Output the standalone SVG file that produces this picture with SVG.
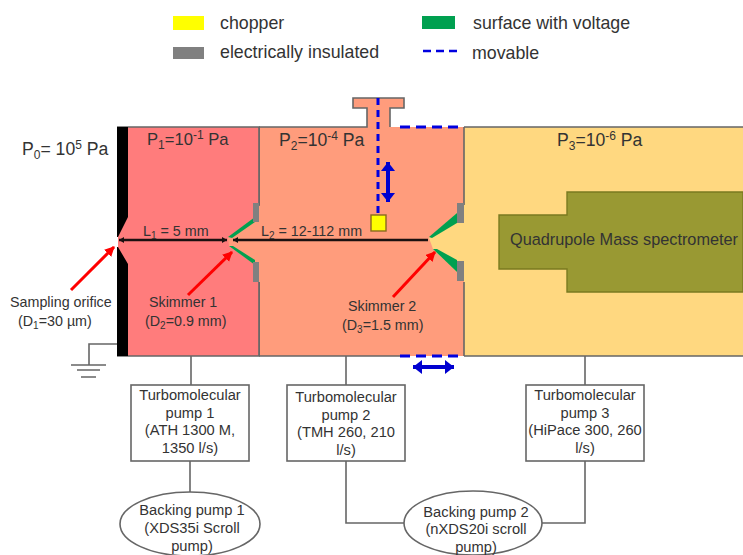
<svg xmlns="http://www.w3.org/2000/svg" width="743" height="555" viewBox="0 0 743 555">
<style>
text{font-family:"Liberation Sans",Arial,sans-serif;fill:#333;font-size:14.3px}
.m{text-anchor:middle;font-size:14.7px}
.lg{font-size:17.8px;fill:#333}
.p{font-size:17.6px}
.p tspan.s{font-size:12px}
.w{fill:none;stroke:#666;stroke-width:1.6}
.box{fill:#fff;stroke:#666;stroke-width:1.6}
.dash{fill:none;stroke:#0000e0;stroke-width:3;stroke-dasharray:10 6}
.gn{fill:#00a050}
.gy{fill:#808080}
.red{stroke:#f00;stroke-width:3;fill:none;marker-end:url(#ra)}
.blu{stroke:#0000d0;stroke-width:4;fill:none;marker-start:url(#ba);marker-end:url(#ba)}
</style>
<defs>
<marker id="ra" markerUnits="userSpaceOnUse" markerWidth="11" markerHeight="11" refX="9" refY="5" orient="auto"><path d="M0 0L10 5L0 10Z" fill="#f00"/></marker>
<marker id="ba" markerUnits="userSpaceOnUse" markerWidth="10" markerHeight="14" refX="9" refY="7" orient="auto-start-reverse"><path d="M0 0L9 7L0 14Z" fill="#0000d0"/></marker>
<marker id="ka" markerUnits="userSpaceOnUse" markerWidth="6" markerHeight="6" refX="5" refY="3" orient="auto-start-reverse"><path d="M0 0L5 3L0 6Z" fill="#1a1010"/></marker>
</defs>
<rect width="743" height="555" fill="#fff"/>
<g id="legend">
<rect x="173" y="16" width="31" height="14" fill="#ffff00"/>
<rect x="173" y="47" width="31" height="12" fill="#808080"/>
<rect x="422" y="16" width="33" height="13" fill="#00a050"/>
<path d="M423 51H457" fill="none" stroke="#0000e0" stroke-width="2.5" stroke-dasharray="8 5"/>
<text x="220" y="29" class="lg">chopper</text>
<text x="220" y="58" class="lg">electrically insulated</text>
<text x="473" y="29" class="lg">surface with voltage</text>
<text x="472" y="59" class="lg">movable</text>
</g>
<g id="chamber3">
<rect x="464" y="127" width="279" height="229" fill="#ffd880"/>
<path d="M464 127H743M464 356H743" class="w"/>
<text x="557" y="146" class="p">P<tspan class="s" dy="4">3</tspan><tspan dy="-4">=10</tspan><tspan class="s" dy="-6">-6</tspan><tspan dy="6"> Pa</tspan></text>
</g>
<g id="chamber2">
<path d="M259 127H367V108H353V98H404V108H390V127H464V356H259Z" fill="#ff9c7c"/>
<path d="M259 127H367V108H353V98H404V108H390V127M259 356H400M464 127V205M464 282V356M259 127V205M259 282V356" class="w"/>
<path d="M429 238L457 213H465V272H457L433 249Z" fill="#ffd880"/>
<text x="279" y="146" class="p">P<tspan class="s" dy="4">2</tspan><tspan dy="-4">=10</tspan><tspan class="s" dy="-6">-4</tspan><tspan dy="6"> Pa</tspan></text>
</g>
<g id="chamber1">
<rect x="118" y="127" width="141" height="229" fill="#ff7c7c"/>
<path d="M228 238L255 217H260V265H255L229 246Z" fill="#ff9c7c"/>
<path d="M117 127H259V206M259 282V356H117" class="w"/>
<text x="147" y="145" class="p" style="font-size:16.6px">P<tspan class="s" dy="4">1</tspan><tspan dy="-4">=10</tspan><tspan class="s" dy="-6">-1</tspan><tspan dy="6"> Pa</tspan></text>
</g>
<g id="orifice">
<path d="M117 127H128V217L118 237H117ZM117 247H118L128 264V356H117Z" fill="#000"/>
</g>
<g id="skimmer1">
<path d="M228 237L255 217V222L232 238Z" class="gn"/>
<path d="M229 246L233 246L255 260V265Z" class="gn"/>
<rect x="253" y="203" width="6" height="19" class="gy"/>
<rect x="253" y="262" width="6" height="20" class="gy"/>
</g>
<g id="skimmer2">
<path d="M429 237L457 213V223L432 238Z" class="gn"/>
<path d="M433 249L437 249L457 260V272Z" class="gn"/>
<rect x="457" y="203" width="7" height="20" class="gy"/>
<rect x="457" y="261" width="7" height="20" class="gy"/>
</g>
<g id="quadrupole">
<path d="M499 215H567V192H743V292H567V269H499Z" fill="#999933" stroke="#7a7a20" stroke-width="1.4"/>
<text x="510" y="245" style="font-size:16.3px">Quadrupole Mass spectrometer</text>
</g>
<g id="connectors">
<path d="M119 240H227" stroke="#1a1010" stroke-width="2.6" fill="none" marker-start="url(#ka)" marker-end="url(#ka)"/>
<path d="M233 240H428" stroke="#1a1010" stroke-width="2.6" fill="none" marker-start="url(#ka)"/>
<path d="M378 98V214" class="dash" style="stroke-dasharray:7 5"/>
<path d="M400 127H464" class="dash"/>
<path d="M400 356H464" class="dash"/>
<path d="M388 162V202" class="blu"/>
<path d="M413 367H454" class="blu"/>
<path d="M71 290L114 247" class="red"/>
<path d="M188 295L232 252" class="red"/>
<path d="M393 297L435 252" class="red"/>
<path d="M191 356V385M190 461V492M346 356V385M346 461V523H404M585 356V385M585 461V523H542" class="w"/>
<path d="M117 344H89V365" class="w"/>
<path d="M71 365H106M77 370H100M81 377H96" class="w"/>
</g>
<g id="pump1">
<rect x="131" y="385" width="118" height="76" class="box"/>
<text class="m" x="190" y="400">Turbomolecular</text>
<text class="m" x="190" y="418">pump 1</text>
<text class="m" x="190" y="435">(ATH 1300 M,</text>
<text class="m" x="190" y="453">1350 l/s)</text>
</g>
<g id="pump2">
<rect x="287" y="385" width="118" height="76" class="box"/>
<text class="m" x="346" y="402">Turbomolecular</text>
<text class="m" x="346" y="420">pump 2</text>
<text class="m" x="346" y="437">(TMH 260, 210</text>
<text class="m" x="346" y="455">l/s)</text>
</g>
<g id="pump3">
<rect x="526" y="385" width="118" height="76" class="box"/>
<text class="m" x="585" y="400">Turbomolecular</text>
<text class="m" x="585" y="418">pump 3</text>
<text class="m" x="585" y="435">(HiPace 300, 260</text>
<text class="m" x="585" y="453">l/s)</text>
</g>
<g id="backing1">
<ellipse cx="190" cy="524" rx="70" ry="32" class="box"/>
<text class="m" x="192" y="515">Backing pump 1</text>
<text class="m" x="192" y="533">(XDS35i Scroll</text>
<text class="m" x="192" y="551">pump)</text>
</g>
<g id="backing2">
<ellipse cx="473" cy="523" rx="69" ry="32" class="box"/>
<text class="m" x="476" y="517">Backing pump 2</text>
<text class="m" x="476" y="534">(nXDS20i scroll</text>
<text class="m" x="476" y="552">pump)</text>
</g>
<g id="chopper">
<rect x="371" y="215" width="15" height="16" fill="#ffff00" stroke="#8a6a20" stroke-width="1.4"/>
</g>
<g id="labels">
<text x="22" y="155" class="p">P<tspan class="s" dy="4">0</tspan><tspan dy="-4">= 10</tspan><tspan class="s" dy="-6">5</tspan><tspan dy="6"> Pa</tspan></text>
<text x="143" y="236">L<tspan font-size="10" dy="3">1</tspan><tspan dy="-3"> = 5 mm</tspan></text>
<text x="261" y="236">L<tspan font-size="10" dy="3">2</tspan><tspan dy="-3"> = 12-112 mm</tspan></text>
<text x="10" y="307">Sampling orifice</text>
<text x="18" y="326">(D<tspan font-size="10" dy="3">1</tspan><tspan dy="-3">=30 µm)</tspan></text>
<text x="149" y="307">Skimmer 1</text>
<text x="145" y="326">(D<tspan font-size="10" dy="3">2</tspan><tspan dy="-3">=0.9 mm)</tspan></text>
<text x="348" y="311">Skimmer 2</text>
<text x="342" y="330">(D<tspan font-size="10" dy="3">3</tspan><tspan dy="-3">=1.5 mm)</tspan></text>
</g>
</svg>
